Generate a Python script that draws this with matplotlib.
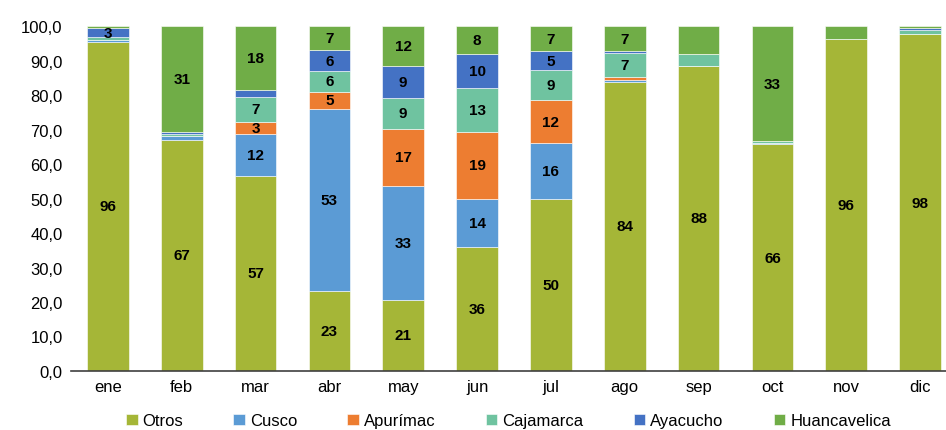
import matplotlib
matplotlib.use("Agg")
import matplotlib.pyplot as plt
import numpy as np

plt.rcParams['font.family'] = ['Liberation Sans Narrow', 'DejaVu Sans Condensed', 'Liberation Sans', 'DejaVu Sans']

meses = ["ene", "feb", "mar", "abr", "may", "jun", "jul", "ago", "sep", "oct", "nov", "dic"]
series = ["Otros", "Cusco", "Apurímac", "Cajamarca", "Ayacucho", "Huancavelica"]
colores = ["#A5B637", "#5B9BD5", "#ED7D31", "#6FC3A0", "#4472C4", "#70AD47"]

otros        = [95.5, 67.0, 56.6, 23.3, 20.6, 36.0, 50.0, 83.8, 88.5, 65.8, 96.2, 97.7]
cusco        = [0.5, 1.0, 12.2, 52.7, 33.0, 14.0, 16.0, 0.5, 0.0, 0.4, 0.0, 0.0]
apurimac     = [0.0, 0.0, 3.4, 5.0, 16.7, 19.3, 12.5, 1.0, 0.0, 0.0, 0.0, 0.0]
cajamarca    = [0.8, 0.8, 7.3, 6.0, 9.0, 12.7, 8.8, 7.0, 3.4, 0.4, 0.0, 1.2]
ayacucho     = [2.7, 0.5, 2.1, 6.0, 9.0, 10.0, 5.4, 0.5, 0.0, 0.0, 0.0, 0.7]
huancavelica = [0.5, 30.7, 18.4, 7.0, 11.7, 8.0, 7.3, 7.2, 8.1, 33.4, 3.8, 0.4]

# etiquetas que no aparecen en el original
ocultas = {("sep", "Cajamarca"), ("sep", "Huancavelica"), ("nov", "Huancavelica")}

datos = [otros, cusco, apurimac, cajamarca, ayacucho, huancavelica]

fig = plt.figure(figsize=(9.46, 4.31), dpi=100)
ax = fig.add_axes([0.075, 0.137, 0.925, 0.8])

x = np.arange(len(meses))
base = np.zeros(len(meses))
for nombre, vals, col in zip(series, datos, colores):
    vals = np.array(vals)
    ax.bar(x, vals, 0.565, bottom=base, color=col, label=nombre,
           edgecolor="white", linewidth=0.4)
    for i, v in enumerate(vals):
        if v >= 2.5 and (meses[i], nombre) not in ocultas:
            ax.text(x[i], base[i] + v / 2, f"{v:.0f}", ha="center", va="center",
                    fontsize=11, fontweight="bold", color="black")
    base += vals

ax.set_xlim(-0.5, 11.35)
ax.set_ylim(0, 100)
ax.set_yticks(np.arange(0, 101, 10))
ax.set_yticklabels([f"{t:.1f}".replace(".", ",") for t in np.arange(0, 101, 10)], fontsize=12)
ax.set_xticks(x)
ax.set_xticklabels(meses, fontsize=12)
for s in ["top", "right", "left"]:
    ax.spines[s].set_visible(False)
ax.spines["bottom"].set_color("#404040")
ax.spines["bottom"].set_linewidth(1.2)
ax.tick_params(axis="both", length=0, pad=6)

ax.legend(loc="center", bbox_to_anchor=(0.5, -0.145), ncol=6, frameon=False,
          fontsize=12, handlelength=0.7, handleheight=0.7, handletextpad=0.3,
          columnspacing=3.0)

fig.savefig("out.png", dpi=100)
